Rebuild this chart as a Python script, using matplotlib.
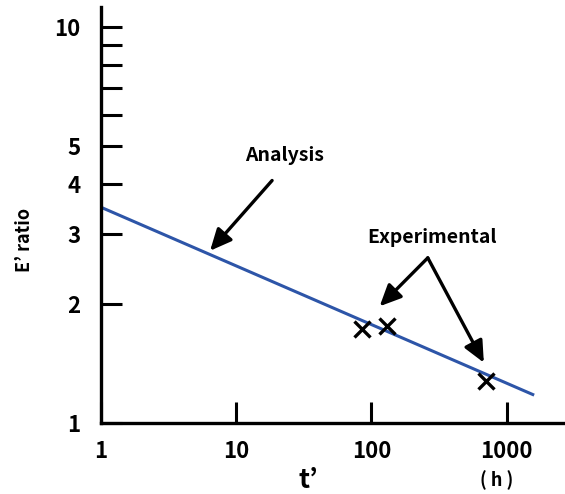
import matplotlib.pyplot as plt
import matplotlib.ticker as mticker

plt.rcParams['font.family'] = ['Noto Sans CJK JP', 'DejaVu Sans']

# analysis line (power law, straight on log-log) - end points
line_t = [1, 1560]
line_e = [3.5, 1.18]

# experimental points
exp_t = [85, 130, 705]
exp_e = [1.73, 1.76, 1.28]

xticks = [1, 10, 100, 1000]
xtick_labels = ["1", "10", "100", "1000"]
yticks = [1, 2, 3, 4, 5, 10]
ytick_labels = ["1", "2", "3", "4", "5", "10"]
yminor = [6, 7, 8, 9]

fig = plt.figure(figsize=(5.65, 4.94), dpi=100)
ax = fig.add_axes([0.179, 0.1437, 0.817, 0.842])

ax.plot(line_t, line_e, color="#2d55a8", lw=2.2, zorder=2)
ax.plot(exp_t, exp_e, linestyle="none", marker="x", color="black",
        markersize=12, markeredgewidth=2.4, zorder=3)

ax.set_xscale("log")
ax.set_yscale("log")
ax.set_xlim(1, 2600)
ax.set_ylim(1, 11.2)

ax.set_xticks(xticks)
ax.set_xticklabels(xtick_labels)
ax.xaxis.set_minor_locator(mticker.NullLocator())
ax.set_yticks(yticks)
ax.set_yticklabels(ytick_labels)
ax.set_yticks(yminor, minor=True)
ax.yaxis.set_minor_formatter(mticker.NullFormatter())

for s in ["top", "right"]:
    ax.spines[s].set_visible(False)
for s in ["left", "bottom"]:
    ax.spines[s].set_linewidth(2.4)

ax.tick_params(axis="both", which="both", direction="in", length=15, width=2.2,
               labelsize=16)
ax.tick_params(axis="y", which="both", pad=15)
ax.tick_params(axis="x", which="both", pad=12)
for lab in ax.get_xticklabels() + ax.get_yticklabels():
    lab.set_fontweight("bold")

fig.text(25 / 565, 1 - 240 / 494, "E’ ratio", rotation=90, ha="center", va="center",
         fontsize=13, fontweight="bold")
fig.text(308 / 565, 1 - 480 / 494, "t’", ha="center", va="center",
         fontsize=19, fontweight="bold")
fig.text(497 / 565, 1 - 480 / 494, "( h )", ha="center", va="center",
         fontsize=13, fontweight="bold")

arrow = dict(arrowstyle="-|>,head_length=0.65,head_width=0.3", color="black",
             lw=2.4, shrinkA=0, shrinkB=0, mutation_scale=20)

ax.text(22.9, 4.73, "Analysis", ha="center", va="center", fontsize=14,
        fontweight="bold")
ax.annotate("", xy=(6.4, 2.72), xytext=(18.4, 4.09), arrowprops=arrow)

ax.text(279, 2.94, "Experimental", ha="center", va="center", fontsize=14,
        fontweight="bold")
ax.annotate("", xy=(115, 1.97), xytext=(261, 2.61), arrowprops=arrow)
ax.annotate("", xy=(678, 1.42), xytext=(261, 2.61), arrowprops=arrow)

fig.savefig("out.png", dpi=100)
